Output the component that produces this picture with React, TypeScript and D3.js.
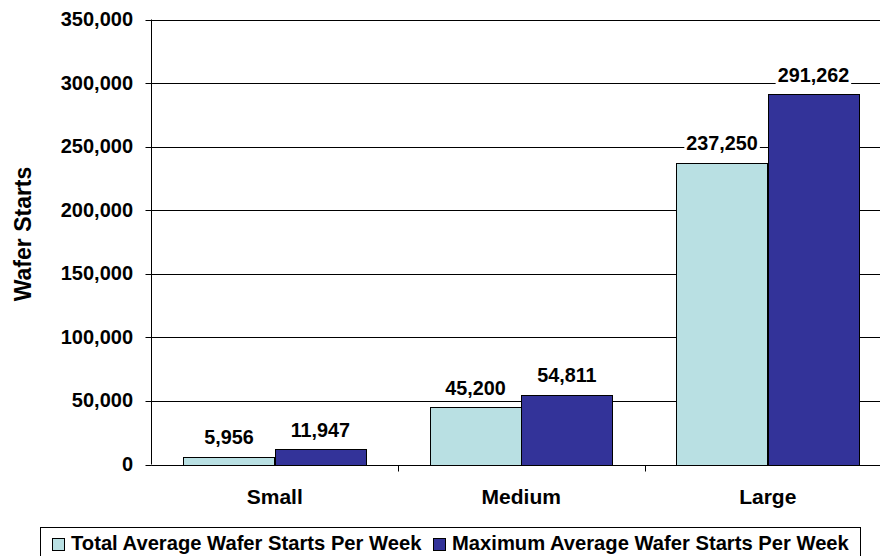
import React from "react";
import * as d3 from "d3";

const categories = ["Small", "Medium", "Large"];
const seriesNames = [
  "Total Average Wafer Starts Per Week",
  "Maximum Average Wafer Starts Per Week",
];
const totalAverage = [5956, 45200, 237250];
const maximumAverage = [11947, 54811, 291262];
const yTicks = [0, 50000, 100000, 150000, 200000, 250000, 300000, 350000];
const seriesColors = ["#B9E0E3", "#333399"];
const yTitle = "Wafer Starts";

const W = 880;
const H = 556;
const FONT = "'Liberation Sans', Arial, Helvetica, sans-serif";

export default function App() {
  const plotLeft = 151.5;
  const step = 246.5;
  const plotRight = plotLeft + step * categories.length;
  const plotTop = 19.5;
  const plotBottom = 464.5;

  const x0 = d3.scaleBand<string>().domain(categories).range([plotLeft, plotRight]).padding(0);
  const bw = x0.bandwidth();
  const gap = (bw * 0.7) / 2.7;
  const x1 = d3
    .scaleBand<number>()
    .domain([0, 1])
    .range([gap / 2, bw - gap / 2])
    .padding(0);
  const y = d3.scaleLinear().domain([0, 350000]).range([plotBottom, plotTop]);
  const fmt = d3.format(",");
  const seriesData = [totalAverage, maximumAverage];

  const labelSize = 19.8;
  const textWidth = (s: string, size: number) =>
    s.split("").reduce((a, c) => a + (c === "," ? 0.278 : 0.556), 0) * size;

  const snap = (v: number) => Math.round(v) + 0.5;

  return (
    <svg
      width={W}
      height={H}
      style={{ position: "absolute", left: 0, top: 0, background: "#fff" }}
      fontFamily={FONT}
      fontWeight="bold"
    >
      <rect x={0} y={0} width={W} height={H} fill="#fff" />
      {/* gridlines */}
      {yTicks.map((t) => (
        <line
          key={"g" + t}
          x1={plotLeft}
          x2={plotRight}
          y1={snap(y(t))}
          y2={snap(y(t))}
          stroke="#000"
          strokeWidth={1}
        />
      ))}
      {/* bars */}
      {categories.map((c, i) => (
        <g key={c} transform={`translate(${x0(c)},0)`}>
          {seriesData.map((s, j) => (
            <rect
              key={j}
              x={Math.round(x1(j)! + (x0(c)! % 1)) - (x0(c)! % 1) + 0.5}
              y={snap(y(s[i]))}
              width={Math.round(x1.bandwidth())}
              height={snap(y(0)) - snap(y(s[i]))}
              fill={seriesColors[j]}
              stroke="#000"
              strokeWidth={1}
            />
          ))}
        </g>
      ))}
      {/* axes */}
      <line x1={plotLeft} x2={plotLeft} y1={plotTop} y2={plotBottom} stroke="#000" />
      <line x1={plotLeft} x2={plotRight} y1={snap(y(0))} y2={snap(y(0))} stroke="#000" />
      {yTicks.map((t) => (
        <g key={"t" + t}>
          <line x1={plotLeft - 6} x2={plotLeft} y1={snap(y(t))} y2={snap(y(t))} stroke="#000" />
          <text x={133} y={y(t) + 6.5} textAnchor="end" fontSize={20} fill="#000">
            {fmt(t)}
          </text>
        </g>
      ))}
      {categories.map((c, i) => (
        <g key={"c" + c}>
          {i > 0 && (
            <line
              x1={snap(x0(c)!)}
              x2={snap(x0(c)!)}
              y1={snap(y(0))}
              y2={snap(y(0)) + 6}
              stroke="#000"
            />
          )}
          <text
            x={x0(c)! + bw / 2}
            y={503.5}
            textAnchor="middle"
            fontSize={21}
            fill="#000"
          >
            {c}
          </text>
        </g>
      ))}
      {/* data labels */}
      {categories.map((c, i) =>
        seriesData.map((s, j) => {
          const cx = x0(c)! + x1(j)! + x1.bandwidth() / 2;
          const by = y(s[i]) - 12.5;
          const label = fmt(s[i]);
          const tw = textWidth(label, labelSize);
          return (
            <g key={c + j}>
              <rect x={cx - tw / 2 - 2} y={by - 16} width={tw + 4} height={21} fill="#fff" />
              <text x={cx} y={by} textAnchor="middle" fontSize={labelSize} fill="#000">
                {label}
              </text>
            </g>
          );
        })
      )}
      {/* y title */}
      <text
        transform={`translate(31,234) rotate(-90)`}
        textAnchor="middle"
        fontSize={23}
        fill="#000"
      >
        {yTitle}
      </text>
      {/* legend */}
      <rect x={40.5} y={527.5} width={820} height={40} fill="#fff" stroke="#000" strokeWidth={1} />
      <rect x={52.5} y={538.5} width={12} height={12} fill={seriesColors[0]} stroke="#000" />
      <text x={71} y={550} fontSize={20.2} fill="#000">
        {seriesNames[0]}
      </text>
      <rect x={433.5} y={538.5} width={12} height={12} fill={seriesColors[1]} stroke="#000" />
      <text x={452} y={550} fontSize={20.2} fill="#000">
        {seriesNames[1]}
      </text>
    </svg>
  );
}
